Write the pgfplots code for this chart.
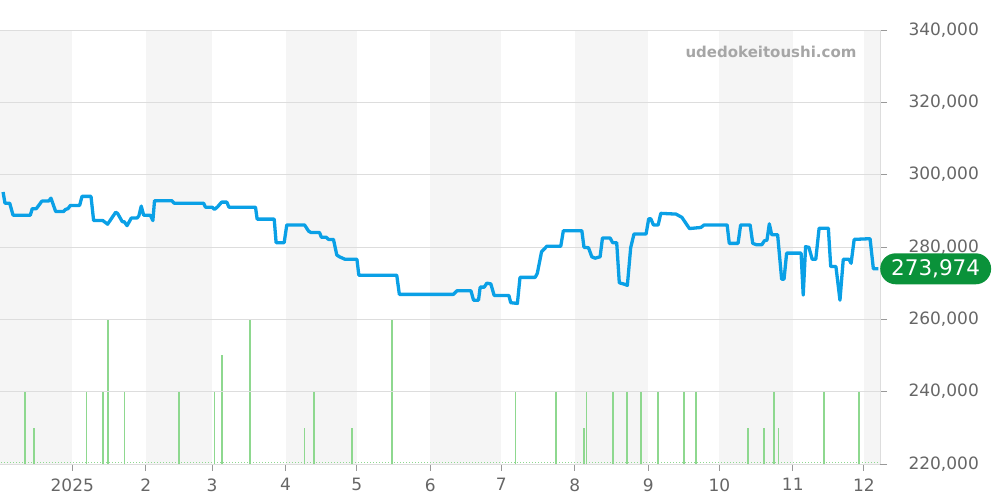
\documentclass[border=0pt]{standalone}
\usepackage{pgfplots}
\pgfplotsset{compat=1.18}
\usepackage{fontspec}
\setmainfont{DejaVu Sans}
\definecolor{priceblue}{HTML}{0AA0E6}
\definecolor{volgreen}{HTML}{8ED88F}
\definecolor{bandgray}{HTML}{F5F5F5}
\definecolor{gridgray}{HTML}{DDDDDD}
\definecolor{tickgray}{HTML}{999999}
\definecolor{ticktext}{HTML}{666666}
\definecolor{badgegreen}{HTML}{0A923A}
\definecolor{markgray}{HTML}{A6A6A6}

\begin{document}
\begin{tikzpicture}
\useasboundingbox (0pt,-36pt) rectangle (1000pt,464pt);
% volume axis (behind): month bands + trade count bars
\begin{axis}[at={(0pt,0pt)}, anchor=south west, scale only axis,
    width=880pt, height=434pt,
    xmin=-30.5, xmax=340.8, ymin=0, ymax=12,
    axis lines=none]
\addplot[fill=bandgray, draw=none] coordinates {(-31,12) (0,12)} \closedcycle;
\addplot[fill=bandgray, draw=none] coordinates {(31,12) (59,12)} \closedcycle;
\addplot[fill=bandgray, draw=none] coordinates {(90,12) (120,12)} \closedcycle;
\addplot[fill=bandgray, draw=none] coordinates {(151,12) (181,12)} \closedcycle;
\addplot[fill=bandgray, draw=none] coordinates {(212,12) (243,12)} \closedcycle;
\addplot[fill=bandgray, draw=none] coordinates {(273,12) (304,12)} \closedcycle;
\addplot[fill=bandgray, draw=none] coordinates {(334,12) (365,12)} \closedcycle;
\addplot[ycomb, volgreen, line width=1.8pt, no markers] coordinates {
 (-20,2) (-16,1) (6,2) (13,2) (15,4) (22,2) (45,2) (60,2) (63,3) (75,4)
 (98,1) (102,2) (118,1) (135,4) (187,2) (204,2) (216,1) (217,2) (228,2)
 (234,2) (240,2) (247,2) (258,2) (263,2) (285,1) (292,1) (296,2) (298,1)
 (317,2) (332,2)};
\addplot[volgreen, line width=1pt, dotted] coordinates {(-30,0.05) (340,0.05)};
\end{axis}
% price axis (front)
\begin{axis}[at={(0pt,0pt)}, anchor=south west, scale only axis,
    width=880pt, height=434pt,
    xmin=-30.5, xmax=340.8, ymin=220000, ymax=340000,
    axis x line*=bottom, axis y line*=right,
    axis line style={gridgray, line width=0.8pt},
    xtick={0,31,59,90,120,151,181,212,243,273,304,334},
    xticklabels={2025,2,3,4,5,6,7,8,9,10,11,12},
    ytick={220000,240000,...,340000},
    scaled y ticks=false,
    yticklabel={\pgfmathprintnumber[fixed,precision=0,1000 sep={,},assume math mode=true]{\tick}},
    ymajorgrids, grid style={gridgray, line width=0.8pt},
    tick align=outside, major tick length=7pt,
    tick style={tickgray, line width=0.8pt},
    ticklabel style={font=\fontsize{17}{20}\selectfont, text=ticktext},
    yticklabel style={xshift=18pt},
    xticklabel style={yshift=-4pt},
    clip=false]
\addplot[priceblue, line width=3.3pt, line join=round, no markers] coordinates {
 (-29.2,295200) (-28.4,292100) (-26.4,292100) (-25.0,288800) (-17.7,288800)
 (-16.9,290600) (-15.2,290600) (-12.8,292700) (-10.0,292700) (-9.0,293500)
 (-7.0,289800) (-3.7,289800) (-2.8,290400) (-1.8,290600) (-0.8,291500)
 (3.1,291500) (4.1,294000) (7.9,294000) (9.0,287300) (12.9,287300)
 (14.9,286300) (18.3,289600) (19.1,289300) (21.1,287000) (21.9,287000)
 (23.1,285900) (24.9,288000) (27.3,288000) (28.1,288600) (29.1,291300)
 (30.1,288800) (32.9,288800) (34.0,287300) (34.7,292800) (42.0,292800)
 (43.0,292100) (55.4,292100) (56.2,291000) (59.0,291000) (60.0,290400)
 (61.3,291100) (63.0,292400) (65.2,292400) (66.1,291000) (77.3,291000)
 (78.0,287700) (85.2,287700) (86.0,281200) (89.4,281200) (90.5,286100)
 (98.0,286100) (99.7,284400) (100.7,284000) (104.3,284000) (105.1,282700)
 (107.1,282700) (108.1,282100) (110.2,282100) (111.6,277800) (112.7,277300)
 (115.1,276600) (120.1,276600) (120.9,272200) (136.9,272200) (138.0,266900)
 (160.8,266900) (162.3,267900) (168.2,267900) (169.3,265300) (171.4,265300)
 (172.1,268900) (173.8,268900) (174.9,270000) (176.6,269800) (178.0,266600)
 (184.2,266600) (185.0,264600) (187.8,264400) (188.9,271600) (195.3,271600)
 (196.2,272700) (198.0,278700) (199.5,279700) (200.2,280200) (206.1,280200)
 (207.2,284500) (215.0,284500) (215.9,279900) (217.8,279800) (219.2,277300)
 (220.6,276900) (222.7,277300) (223.7,282500) (226.9,282500) (228.0,281200)
 (229.7,281200) (230.8,270100) (232.5,269800) (234.2,269400) (235.6,279800)
 (237.0,283600) (242.1,283600) (243.2,287800) (244.1,287800) (245.2,286100)
 (247.2,286100) (248.3,289300) (254.7,289100) (257.2,288200) (260.4,285100)
 (265.2,285400) (266.6,286100) (276.3,286100) (277.2,281000) (280.9,281000)
 (282.0,286100) (286.0,286100) (287.1,281000) (288.8,280600) (290.9,280600)
 (292.0,281700) (293.1,281900) (294.1,286400) (295.1,283400) (297.6,283400)
 (299.3,271100) (300.3,271100) (301.4,278300) (307.5,278300) (308.4,266700)
 (309.4,280100) (310.8,279900) (312.2,276600) (313.7,276600) (315.1,285200)
 (319.0,285200) (320.0,274600) (322.2,274600) (323.9,265300) (325.3,276600)
 (327.7,276600) (328.6,275500) (329.9,282100) (336.6,282300) (338.0,273974)
 (340.1,273974)};
\node[anchor=east, xshift=-20pt, yshift=-22pt, text=markgray,
      font=\bfseries\fontsize{15}{17}\selectfont] at (rel axis cs:1,1) {udedokeitoushi.com};
\node[anchor=west, fill=badgegreen, text=white, rounded corners=15.5pt,
      minimum height=31pt, inner xsep=11pt, inner ysep=0pt,
      font=\fontsize{21.5}{24}\selectfont] at (axis cs:340.8,273974) {273,974};
\end{axis}
\end{tikzpicture}
\end{document}
